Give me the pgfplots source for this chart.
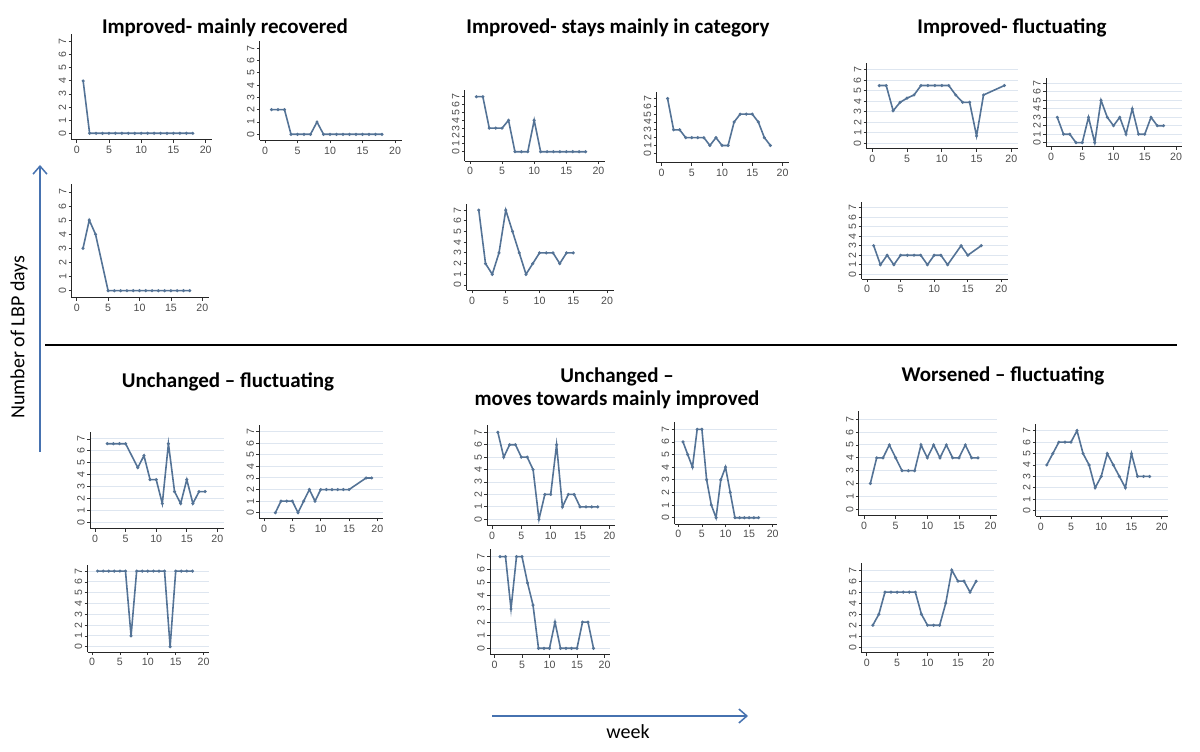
\documentclass[border=0pt]{standalone}
\usepackage{fontspec}
\setmainfont{Carlito}
\newfontfamily\tickfont{Liberation Sans}
\usepackage{pgfplots}
\pgfplotsset{compat=1.18}
\usetikzlibrary{arrows.meta}
\definecolor{lbp}{RGB}{84,115,150}
\definecolor{arrowblue}{RGB}{70,114,176}
\definecolor{gridc}{RGB}{222,230,240}
\pgfplotsset{
 panel/.style={scale only axis, anchor=south west,
  axis x line*=bottom, axis y line*=left,
  xmin=-0.8, xmax=21, ymin=-0.5, ymax=7.6,
  xtick={0,5,10,15,20}, ytick={0,1,...,7},
  tick align=outside, major tick length=1.5pt,
  tick style={black!80, line width=0.4pt},
  axis line style={-, black!85, line width=0.5pt},
  ticklabel style={font=\tickfont\fontsize{5.3}{6}\selectfont, text=black!70},
  /pgf/number format/assume math mode=true,
  yticklabel style={rotate=90, anchor=south, inner sep=1pt},
  xticklabel style={inner sep=1.5pt},
  every axis plot post/.append style={lbp, line width=0.8pt, mark=*, mark size=0.3pt, mark options={lbp}},
 },
 squeezed/.style={ymin=-1.2, ymax=7.8},
 gridded/.style={ymajorgrids, major grid style={gridc, line width=0.5pt}},
}
\begin{document}
\begin{tikzpicture}
\path[use as bounding box] (0pt,0pt) rectangle (600pt,375.5pt);

% titles
\begin{scope}[every node/.style={font=\bfseries\fontsize{10.5}{12}\selectfont}]
\node at (112.5pt,361.5pt) {Improved- mainly recovered};
\node at (309pt,361.5pt) {Improved- stays mainly in category};
\node at (506pt,361.5pt) {Improved- fluctuating};
\node at (114pt,184.5pt) {Unchanged -- fluctuating};
\node at (308.5pt,187pt) {Unchanged --};
\node at (308.5pt,175.5pt) {moves towards mainly improved};
\node at (501.5pt,187.5pt) {Worsened -- fluctuating};
\end{scope}

% separator and arrows
\draw[black, line width=1pt] (22.5pt,203pt) -- (588.5pt,203pt);
\draw[arrowblue, line width=0.75pt, -{Straight Barb[length=4pt,width=7pt]}] (20pt,149.5pt) -- (20pt,293pt);
\draw[arrowblue, line width=0.75pt, -{Straight Barb[length=4pt,width=7pt]}] (246pt,17.5pt) -- (374pt,17.5pt);
\node[rotate=90, font=\fontsize{10}{12}\selectfont] at (9.5pt,207pt) {Number of LBP days};
\node[font=\fontsize{10}{12}\selectfont] at (314pt,9.5pt) {week};

% ---------- Improved - mainly recovered
\begin{axis}[panel, at={(35.77pt,305.58pt)}, width=70.3pt, height=53.06pt]
\addplot coordinates {(1,4)(2,0)(3,0)(4,0)(5,0)(6,0)(7,0)(8,0)(9,0)(10,0)(11,0)(12,0)(13,0)(14,0)(15,0)(16,0)(17,0)(18,0)};
\end{axis}
\begin{axis}[panel, at={(129.9pt,305.28pt)}, width=70.85pt, height=49.8pt]
\addplot coordinates {(1,2)(2,2)(3,2)(4,0)(5,0)(6,0)(7,0)(8,1)(9,0)(10,0)(11,0)(12,0)(13,0)(14,0)(15,0)(16,0)(17,0)(18,0)};
\end{axis}
\begin{axis}[panel, at={(35.84pt,226.63pt)}, width=68.45pt, height=57.1pt]
\addplot coordinates {(1,3)(2,5)(3,4)(5,0)(6,0)(7,0)(8,0)(9,0)(10,0)(11,0)(12,0)(13,0)(14,0)(15,0)(16,0)(17,0)(18,0)};
\end{axis}

% ---------- Improved - stays mainly in category
\begin{axis}[panel, squeezed, at={(232.43pt,294.93pt)}, width=69.98pt, height=35.37pt]
\addplot coordinates {(1,7)(2,7)(3,3)(4,3)(5,3)(6,4)(7,0)(8,0)(9,0)(10,4)(11,0)(12,0)(13,0)(14,0)(15,0)(16,0)(17,0)(18,0)};
\end{axis}
\begin{axis}[panel, squeezed, at={(328.33pt,294.15pt)}, width=65.95pt, height=35.24pt]
\addplot coordinates {(1,7)(2,3)(3,3)(4,2)(5,2)(6,2)(7,2)(8,1)(9,2)(10,1)(11,1)(12,4)(13,5)(14,5)(15,5)(16,4)(17,2)(18,1)};
\end{axis}
\begin{axis}[panel, at={(233.3pt,230.33pt)}, width=73.58pt, height=43.34pt]
\addplot coordinates {(1,7)(2,2)(3,1)(4,3)(5,7)(6,5)(7,3)(8,1)(9,2)(10,3)(11,3)(12,3)(13,2)(14,3)(15,3)};
\end{axis}

% ---------- Improved - fluctuating
\begin{axis}[panel, gridded, at={(433.37pt,301.23pt)}, width=75.76pt, height=42.53pt]
\addplot coordinates {(1,5.5)(2,5.5)(3,3.1)(4,3.9)(5,4.3)(6,4.6)(7,5.5)(8,5.5)(9,5.5)(10,5.5)(11,5.5)(12,4.6)(13,3.9)(14,3.9)(15,0.7)(16,4.6)(19,5.5)};
\end{axis}
\begin{axis}[panel, gridded, at={(523pt,302.03pt)}, width=68.13pt, height=34.34pt]
\addplot coordinates {(1,3)(2,1)(3,1)(4,0)(5,0)(6,3)(7,0)(8,5)(9,3)(10,2)(11,3)(12,1)(13,4)(14,1)(15,1)(16,3)(17,2)(18,2)};
\end{axis}
\begin{axis}[panel, gridded, at={(430.8pt,235.97pt)}, width=73.25pt, height=38.6pt]
\addplot coordinates {(1,3)(2,1)(3,2)(4,1)(5,2)(6,2)(7,2)(8,2)(9,1)(10,2)(11,2)(12,1)(14,3)(15,2)(17,3)};
\end{axis}

% ---------- Unchanged - fluctuating
\begin{axis}[panel, gridded, at={(45.05pt,111.16pt)}, width=66.7pt, height=48.48pt]
\addplot coordinates {(2,6.6)(3,6.6)(4,6.6)(5,6.6)(7,4.6)(8,5.6)(9,3.6)(10,3.6)(11,1.6)(12,6.6)(13,2.6)(14,1.6)(15,3.6)(16,1.6)(17,2.6)(18,2.6)};
\end{axis}
\begin{axis}[panel, gridded, at={(129.73pt,116.26pt)}, width=61.8pt, height=46.86pt]
\addplot coordinates {(2,0)(3,1)(4,1)(5,1)(6,0)(7,1)(8,2)(9,1)(10,2)(11,2)(12,2)(13,2)(14,2)(15,2)(18,3)(19,3)};
\end{axis}
\begin{axis}[panel, gridded, at={(43.77pt,49.45pt)}, width=60.82pt, height=43.74pt]
\addplot coordinates {(1,7)(2,7)(3,7)(4,7)(5,7)(6,7)(7,1)(8,7)(9,7)(10,7)(11,7)(12,7)(13,7)(14,0)(15,7)(16,7)(17,7)(18,7)};
\end{axis}

% ---------- Unchanged - moves towards mainly improved
\begin{axis}[panel, gridded, at={(243.65pt,112.74pt)}, width=63.98pt, height=50.34pt]
\addplot coordinates {(1,7)(2,5)(3,6)(4,6)(5,5)(6,5)(7,4)(8,0)(9,2)(10,2)(11,6)(12,1)(13,2)(14,2)(15,1)(16,1)(17,1)(18,1)};
\end{axis}
\begin{axis}[panel, gridded, at={(337.26pt,113.49pt)}, width=51.45pt, height=51.15pt]
\addplot coordinates {(1,6)(2,5)(3,4)(4,7)(5,7)(6,3)(7,1)(8,0)(9,3)(10,4)(11,2)(12,0)(13,0)(14,0)(15,0)(16,0)(17,0)};
\end{axis}
\begin{axis}[panel, gridded, at={(245.05pt,48.08pt)}, width=59.95pt, height=53.06pt]
\addplot coordinates {(1,7)(2,7)(3,3)(4,7)(5,7)(6,5)(7,3.3)(8,0)(9,0)(10,0)(11,2)(12,0)(13,0)(14,0)(15,0)(16,2)(17,2)(18,0)};
\end{axis}

% ---------- Worsened - fluctuating
\begin{axis}[panel, gridded, at={(429.47pt,117.63pt)}, width=69pt, height=52.12pt]
\addplot coordinates {(1,2)(2,4)(3,4)(4,5)(5,4)(6,3)(7,3)(8,3)(9,5)(10,4)(11,5)(12,4)(13,5)(14,4)(15,4)(16,5)(17,4)(18,4)};
\end{axis}
\begin{axis}[panel, gridded, at={(517.93pt,117.29pt)}, width=65.95pt, height=46.29pt]
\addplot coordinates {(1,4)(2,5)(3,6)(4,6)(5,6)(6,7)(7,5)(8,4)(9,2)(10,3)(11,5)(12,4)(13,3)(14,2)(15,5)(16,3)(17,3)(18,3)};
\end{axis}
\begin{axis}[panel, gridded, at={(430.92pt,49.09pt)}, width=66.27pt, height=44.67pt]
\addplot coordinates {(1,2)(2,3)(3,5)(4,5)(5,5)(6,5)(7,5)(8,5)(9,3)(10,2)(11,2)(12,2)(13,4)(14,7)(15,6)(16,6)(17,5)(18,6)};
\end{axis}
\end{tikzpicture}
\end{document}
